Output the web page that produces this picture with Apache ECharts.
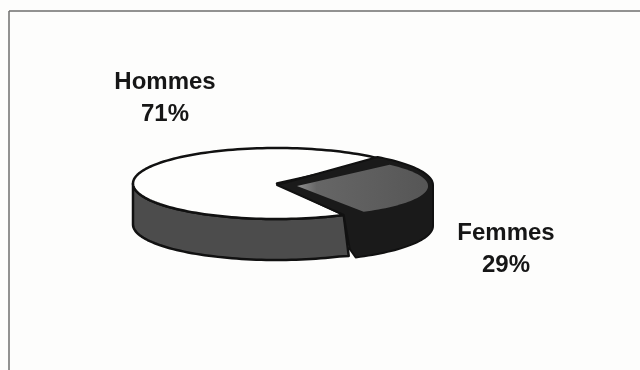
<!DOCTYPE html>
<html>
<head>
<meta charset="utf-8">
<style>
html,body{margin:0;padding:0;background:#fdfdfc}
#c{width:640px;height:370px;filter:blur(0.5px)}
</style>
<script src="https://cdn.jsdelivr.net/npm/echarts@6/dist/echarts.min.js"></script>
</head>
<body>
<div id="c"></div>
<script>
var categories = ['Hommes', 'Femmes'];
var shares = [71, 29];

// layout of the drawn pie (tilted ellipse with an exploded slice)
var startAngle = 42, depth = 41;
var hommesCentre = [277, 183.5], femmesCentre = [289, 185], rx = 144, ry = 35.5;
var faceCentre = [297, 186], faceRx = 131, faceRy = 30;
var labelPos = [[165, 82, 114], [506, 233, 265]];

function pt(c, a, rX, rY, dy) {
  var r = a * Math.PI / 180;
  return [c[0] + rX * Math.cos(r), c[1] - rY * Math.sin(r) + (dy || 0)];
}
function arc(c, a0, a1, rX, rY, dy) {
  var n = Math.max(2, Math.ceil(Math.abs(a1 - a0) / 2)), out = [];
  for (var i = 0; i <= n; i++) out.push(pt(c, a0 + (a1 - a0) * i / n, rX, rY, dy));
  return out;
}
function poly(points, style) {
  return { type: 'polygon', shape: { points: points }, style: style };
}
function label(i, total) {
  var p = labelPos[i];
  var font = { fill: '#161616', fontFamily: '"Liberation Sans", Arial, sans-serif', fontWeight: 'bold', fontSize: 24, align: 'center', verticalAlign: 'middle' };
  return [
    { type: 'text', style: Object.assign({ x: p[0], y: p[1], text: categories[i] }, font) },
    { type: 'text', style: Object.assign({ x: p[0], y: p[2], text: Math.round(shares[i] / total * 100) + '%' }, font) }
  ];
}

var total = shares.reduce(function (a, b) { return a + b; }, 0);

function renderItem(params, api) {
  var i = params.dataIndex;
  var span = api.value(1) / total * 360;
  var femmesSpan = shares[1] / total * 360;
  var endAngle = startAngle - femmesSpan;      // lower cut of the pie
  var children = [];
  var cut = pt(hommesCentre, endAngle, rx, ry);
  if (i === 0) {
    var wallBottom = arc(hommesCentre, 180, 360 + endAngle, rx, ry, depth);
    var last = wallBottom[wallBottom.length - 1];
    wallBottom[wallBottom.length - 1] = [last[0] + 5, last[1]];
    children.push(poly(
      arc(hommesCentre, 180, 360 + endAngle, rx, ry).concat(wallBottom.slice().reverse()),
      { fill: '#4c4c4c', stroke: '#111', lineWidth: 2.5, lineJoin: 'round' }));
    children.push(poly(
      [hommesCentre.slice()].concat(arc(hommesCentre, startAngle, startAngle + span, rx, ry)),
      { fill: '#fefefd', stroke: '#111', lineWidth: 2.5, lineJoin: 'round' }));
  } else {
    var body = [[hommesCentre[0], hommesCentre[1] + 1.5]]
      .concat(arc(femmesCentre, startAngle + 10, 0, rx, ry))
      .concat(arc(femmesCentre, 0, endAngle, rx, ry, depth))
      .concat([[cut[0] + 6, cut[1] + 34], [cut[0], cut[1]]]);
    children.push(poly(body, { fill: '#1a1a1a', stroke: '#111', lineWidth: 2, lineJoin: 'round' }));
    children.push(poly(
      [faceCentre.slice()].concat(arc(faceCentre, startAngle + 3, startAngle + 3 - span, faceRx, faceRy)),
      { fill: {
          type: 'linear', x: 0, y: 0, x2: 1, y2: 0,
          colorStops: [{ offset: 0, color: '#929292' }, { offset: 0.15, color: '#666666' }, { offset: 1, color: '#565656' }]
        } }));
  }
  return { type: 'group', children: children.concat(label(i, total)) };
}

var chart = echarts.init(document.getElementById('c'), null, { renderer: 'canvas' });
chart.setOption({
  animation: false,
  backgroundColor: '#fdfdfc',
  graphic: [
    { type: 'line', shape: { x1: 9, y1: 11, x2: 640, y2: 11 }, style: { stroke: '#6e6e6e', lineWidth: 1.5 } },
    { type: 'line', shape: { x1: 9, y1: 11, x2: 9, y2: 370 }, style: { stroke: '#6e6e6e', lineWidth: 1.5 } }
  ],
  series: [{
    type: 'custom',
    coordinateSystem: 'none',
    renderItem: renderItem,
    data: categories.map(function (c, i) { return [c, shares[i]]; })
  }]
});
</script>
</body>
</html>
